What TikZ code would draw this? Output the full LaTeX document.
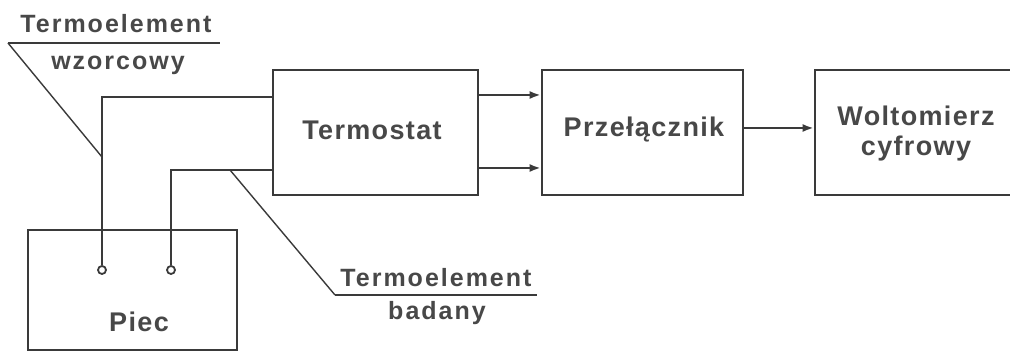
\documentclass[tikz,border=0pt]{standalone}
\usepackage{fontspec}
\setmainfont{Liberation Sans}
\newfontfamily\boxfont[LetterSpace=5]{Liberation Sans Bold}
\newfontfamily\sidefont[LetterSpace=8]{Liberation Sans Bold}
\usetikzlibrary{arrows.meta}
\definecolor{ink}{HTML}{3A3A3A}
\definecolor{txt}{HTML}{484848}
\tikzset{
  blockbox/.style={draw=ink, line width=2.6pt, rectangle, inner sep=0pt},
  boxtext/.style={font=\boxfont\fontsize{27}{32}\selectfont, text=txt, inner sep=0pt, align=center},
  sidetext/.style={font=\sidefont\fontsize{25}{28}\selectfont, text=txt, inner sep=0pt},
  wire/.style={draw=ink, line width=2.2pt},
  sig/.style={draw=ink, line width=2.2pt, -{Latex[length=11pt,width=8pt]}},
  leader/.style={draw=ink, line width=1.4pt},
  uline/.style={draw=ink, line width=2.2pt},
  term/.style={draw=ink, line width=1.8pt, circle, minimum size=8pt, inner sep=0pt, fill=white}
}
\begin{document}
\begin{tikzpicture}[x=1pt,y=-1pt]
\useasboundingbox (0,0) rectangle (1010,352);
\fill[white] (0,0) rectangle (1010,352);
\clip (0,0) rectangle (1010,352);
% blocks
\node[blockbox, minimum width=205pt, minimum height=125pt] (termostat) at (375.5,132.5) {};
\node[boxtext] (termostatt) at (372,130) {Termostat};
\node[blockbox, minimum width=201pt, minimum height=125pt] (przel) at (642.5,132.5) {};
\node[boxtext] (przelt) at (644,130) {Przełącznik};
\node[blockbox, minimum width=215pt, minimum height=125pt] (wolt) at (922.5,132.5) {};
\node[boxtext] (woltt) at (916,134) {Woltomierz\\[-2pt]cyfrowy};
\node[blockbox, minimum width=209pt, minimum height=120pt] (piec) at (132.5,290) {};
\node[boxtext] (piect) at (139,322) {Piec};
% terminals
\node[term] (c1) at (102,270) {};
\node[term] (c2) at (171,270) {};
\coordinate (tin1) at (termostat.west |- 0,97);
\coordinate (tin2) at (termostat.west |- 0,170);
\draw[wire] (c1.north) |- (tin1);
\draw[wire] (c2.north) |- (tin2);
% signal arrows
\draw[sig] (termostat.east |- 0,95) -- (przel.west |- 0,95);
\draw[sig] (termostat.east |- 0,168) -- (przel.west |- 0,168);
\draw[sig] (przel.east |- 0,128) -- (wolt.west |- 0,128);
% top label
\coordinate (lw1) at (102,157);
\coordinate (lk1) at (8,43);
\coordinate (le1) at (220,43);
\draw[leader] (lw1) -- (lk1);
\draw[uline] (lk1) -- (le1);
\node[sidetext, anchor=base] (lab1a) at (116,33) {Termoelement};
\node[sidetext, anchor=base] (lab1b) at (118,70) {wzorcowy};
% bottom label
\coordinate (lw2) at (230,170);
\coordinate (lk2) at (335,295);
\coordinate (le2) at (537,295);
\draw[leader] (lw2) -- (lk2);
\draw[uline] (lk2) -- (le2);
\node[sidetext, anchor=base] (lab2a) at (436,287) {Termoelement};
\node[sidetext, anchor=base] (lab2b) at (437,320) {badany};
\end{tikzpicture}
\end{document}
